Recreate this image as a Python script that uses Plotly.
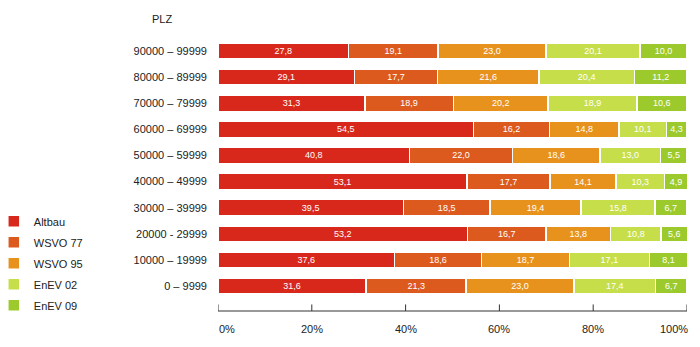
import plotly.graph_objects as go

categories = ["0 – 9999", "10000 – 19999", "20000 - 29999", "30000 – 39999", "40000 – 49999",
              "50000 – 59999", "60000 – 69999", "70000 – 79999", "80000 – 89999", "90000 – 99999"]
series_names = ["Altbau", "WSVO 77", "WSVO 95", "EnEV 02", "EnEV 09"]
altbau = [31.6, 37.6, 53.2, 39.5, 53.1, 40.8, 54.5, 31.3, 29.1, 27.8]
wsvo77 = [21.3, 18.6, 16.7, 18.5, 17.7, 22.0, 16.2, 18.9, 17.7, 19.1]
wsvo95 = [23.0, 18.7, 13.8, 19.4, 14.1, 18.6, 14.8, 20.2, 21.6, 23.0]
enev02 = [17.4, 17.1, 10.8, 15.8, 10.3, 13.0, 10.1, 18.9, 20.4, 20.1]
enev09 = [6.7, 8.1, 5.6, 6.7, 4.9, 5.5, 4.3, 10.6, 11.2, 10.0]
tick_vals = [0, 20, 40, 60, 80, 100]
tick_text = ["0%", "20%", "40%", "60%", "80%", "100%"]
colors = ["#d8281b", "#dc5a1e", "#e8921e", "#c6de4a", "#9cca2c"]

font_family = "Liberation Sans, Arial, sans-serif"
fig = go.Figure()
for name, vals, col in zip(series_names, [altbau, wsvo77, wsvo95, enev02, enev09], colors):
    fig.add_trace(go.Bar(
        y=categories, x=vals, name=name, orientation="h",
        marker=dict(color=col, line=dict(color="white", width=1.5)),
        text=[f"{v:.1f}".replace(".", ",") for v in vals],
        textposition="inside", insidetextanchor="middle",
        textfont=dict(color="white", size=9, family=font_family),
        legendgroup=name, hoverinfo="skip",
    ))

fig.update_layout(
    width=700, height=347,
    margin=dict(l=218, r=13, t=38, b=36, autoexpand=False),
    paper_bgcolor="white", plot_bgcolor="white",
    barmode="stack", bargap=0.387,
    font=dict(family=font_family, size=11, color="#222222"),
    uniformtext=dict(minsize=9, mode="show"),
    showlegend=True,
    legend=dict(x=-0.478, xanchor="left", y=0.382, yanchor="top",
                traceorder="grouped", tracegroupgap=2,
                font=dict(size=11, family=font_family, color="#222222"),
                itemwidth=30, bgcolor="rgba(0,0,0,0)"),
    xaxis=dict(range=[0, 100], tickvals=tick_vals, showticklabels=False,
               ticks="", showline=False, automargin=False,
               showgrid=False, zeroline=False, fixedrange=True),
    yaxis=dict(type="category", categoryorder="array", categoryarray=categories,
               range=[-0.957, 9.5], showline=False, ticks="", ticklabelstandoff=10,
               showgrid=False, zeroline=False, automargin=False,
               tickfont=dict(size=11, family=font_family, color="#222222")),
)

axis_col = "#333333"
fig.add_shape(type="line", xref="x", yref="paper", x0=tick_vals[0], x1=tick_vals[-1], y0=0, y1=0,
              line=dict(color=axis_col, width=1))
for v in tick_vals:
    fig.add_shape(type="line", xref="x", yref="paper", x0=v, x1=v, y0=0, y1=0.024,
                  line=dict(color=axis_col, width=1))

for v, t in zip(tick_vals, tick_text):
    anchor = "left" if v == 0 else ("right" if v == 100 else "center")
    fig.add_annotation(x=v, y=-0.065, xref="x", yref="paper", text=t, showarrow=False,
                       xanchor=anchor, yanchor="middle", xshift=-1 if v == 0 else (3 if v == 100 else 0),
                       font=dict(size=11, family=font_family, color="#222222"))

fig.add_annotation(x=-0.119, y=1.04, xref="paper", yref="paper", text="PLZ", showarrow=False,
                   xanchor="center", yanchor="bottom",
                   font=dict(size=11, family=font_family, color="#222222"))

fig.write_html("out.html")
